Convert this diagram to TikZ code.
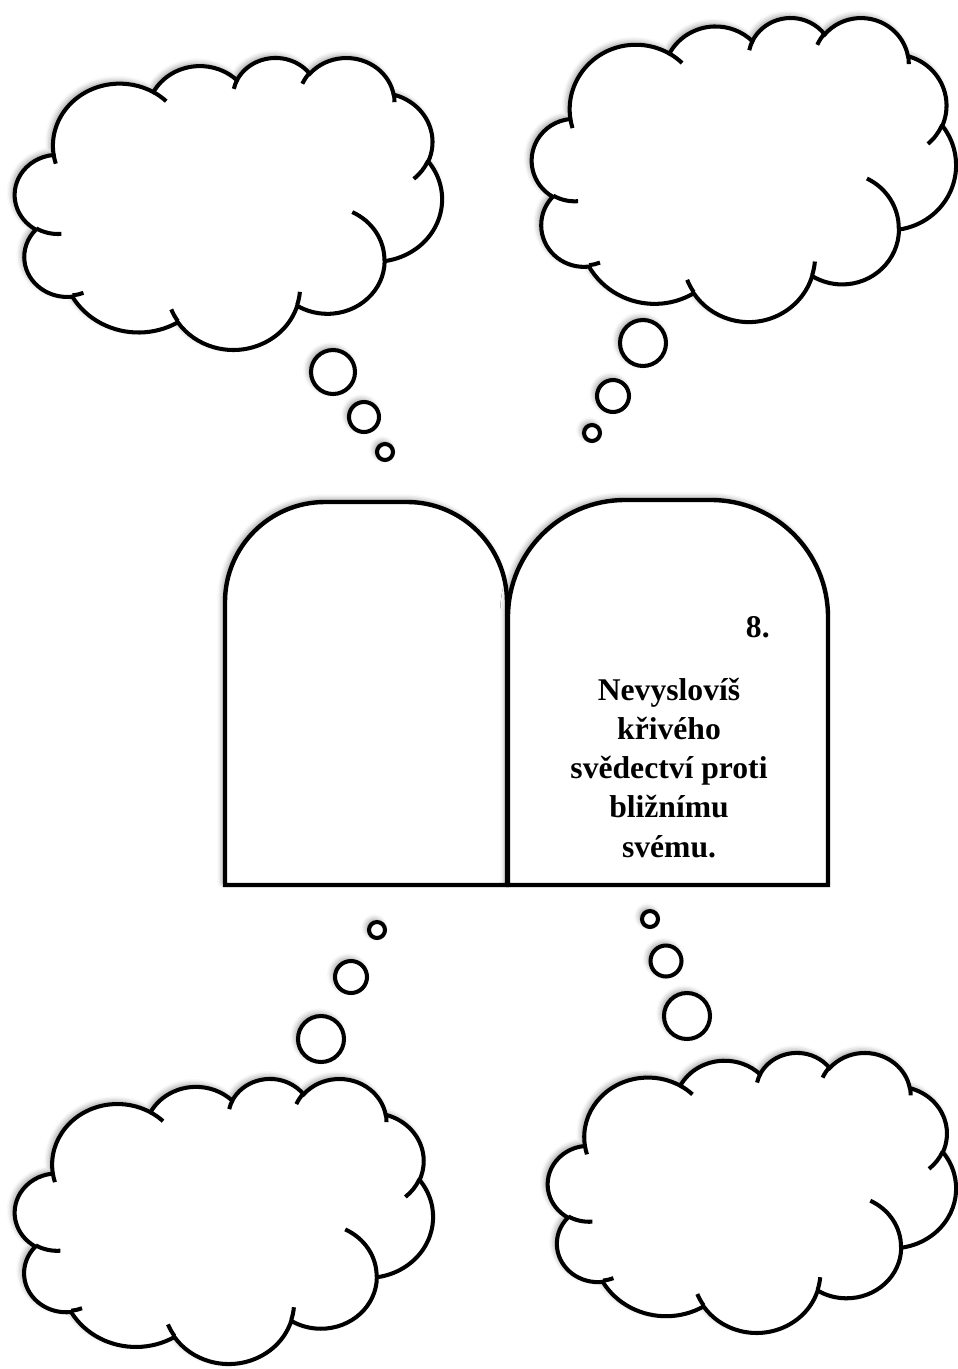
\documentclass[tikz,border=0pt]{standalone}
\usepackage{fontspec}
\setmainfont{Liberation Serif}
\usetikzlibrary{shadows.blur}

% arc as office drawings give it: radii, start angle seen from the centre, sweep
\newcommand\ooarc[4]{arc[x radius=#1,y radius=#2,
  start angle={atan2(#1*sin(#3),#2*cos(#3))},
  delta angle={mod(atan2(#1*sin(#3+#4),#2*cos(#3+#4))-atan2(#1*sin(#3),#2*cos(#3))+540,360)-180}]}

\begin{document}
\begin{tikzpicture}[x=0.02cm,y=-0.02cm,
  outline/.style={line width=2.3pt},
  softshadow/.style={blur shadow={shadow xshift=-1.5pt,shadow yshift=1.5pt,shadow blur radius=3pt,shadow opacity=40}},
  bubble/.style={outline,softshadow,fill=white},
  tablet/.style={line width=2.5pt,softshadow,fill=white},
  verse/.style={font=\fontsize{18}{22.3}\selectfont\bfseries,align=center,inner sep=0pt},
  pics/cloud/.style={code={
    \draw[outline,softshadow,fill=white] (9.028,33.264)
      \ooarc{15.632}{21.273}{-190.4875}{123.7805}
      \ooarc{12.345}{16.822}{-144.1024}{89.9452}
      \ooarc{10.104}{13.762}{-145.8079}{99.723}
      \ooarc{11.243}{15.266}{-130.9861}{117.2417}
      \ooarc{12.345}{16.836}{-78.7089}{109.0269}
      \ooarc{15.683}{21.343}{-46.2673}{130.269}
      \ooarc{13.391}{18.211}{0.625}{114.033}
      \ooarc{15.630}{21.331}{22.4516}{115.1726}
      \ooarc{17.870}{24.405}{66.2426}{75.711}
      \ooarc{10.093}{13.699}{-274.942}{146.7356}
      \ooarc{10.058}{13.762}{-246.8285}{152.5189}
      -- cycle;
    \draw[outline]
      (10.863,60.595) \ooarc{10.058}{13.762}{86.742}{26.43}
      (16.037,80.785) \ooarc{10.093}{13.699}{73.61}{11.447}
      (38.144,90.486) \ooarc{15.630}{21.331}{137.624}{14.081}
      (66.729,80.442) \ooarc{15.630}{21.331}{6.453}{15.998}
      (79.002,53.134) \ooarc{13.391}{18.211}{-70.292}{70.917}
      (96.755,35.542) \ooarc{12.345}{16.836}{30.318}{27.752}
      (88.713,12.560) \ooarc{11.243}{15.266}{-13.744}{14.859}
      (67.310,9.148) \ooarc{11.243}{15.266}{-149.181}{18.195}
      (51.252,10.926) \ooarc{10.104}{13.762}{-163.494}{17.686}
      (32.407,12.019) \ooarc{15.632}{21.273}{-66.707}{12.319}
      (9.553,36.549) \ooarc{15.632}{21.273}{157.654}{11.858};
  }}]
  \useasboundingbox (0,0) rectangle (957,1369);

  % clouds
  \begin{scope}[shift={(15,57)},x=0.0854cm,y=-0.0584cm]\pic {cloud};\end{scope}
  \begin{scope}[shift={(532,17)},x=0.0848cm,y=-0.0608cm]\pic {cloud};\end{scope}
  \begin{scope}[shift={(15,1078)},x=0.0836cm,y=-0.057cm]\pic {cloud};\end{scope}
  \begin{scope}[shift={(548,1052)},x=0.0816cm,y=-0.056cm]\pic {cloud};\end{scope}

  % bubbles
  \draw[bubble] (333,372) circle[radius=22];
  \draw[bubble] (364,417) circle[radius=15];
  \draw[bubble] (385,452) circle[radius=8];
  \draw[bubble] (643,343) circle[radius=23];
  \draw[bubble] (613,396) circle[radius=16];
  \draw[bubble] (592,433) circle[radius=8];
  \draw[bubble] (377,930) circle[radius=8];
  \draw[bubble] (351,977) circle[radius=16];
  \draw[bubble] (321,1039) circle[radius=23];
  \draw[bubble] (650,919) circle[radius=8];
  \draw[bubble] (666,961) circle[radius=15.5];
  \draw[bubble] (687,1016) circle[radius=23];

  % tablets
  \draw[tablet] (225,885) -- (225,602) arc[start angle=180,end angle=270,radius=100]
    -- (407,502) arc[start angle=270,end angle=360,radius=100] -- (507,885) -- cycle;
  \draw[tablet] (508,885) -- (508,617) arc[start angle=180,end angle=270,radius=117]
    -- (711,500) arc[start angle=270,end angle=360,radius=117] -- (828,885) -- cycle;

  \node[verse,anchor=base east] (num) at (770,637) {8.};
  \node[verse,anchor=base] (verse) at (669,857)
    {Nevyslovíš\\křivého\\svědectví proti\\bližnímu\\svému.};
\end{tikzpicture}
\end{document}
